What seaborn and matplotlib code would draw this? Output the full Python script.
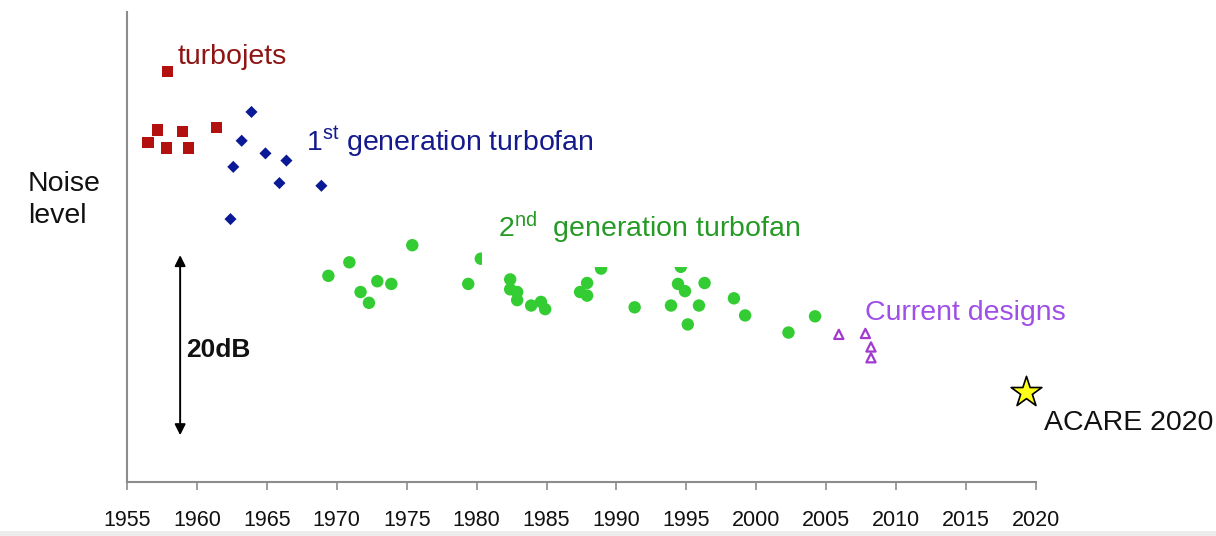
import numpy as np
import pandas as pd
import matplotlib
matplotlib.use("Agg")
import matplotlib.pyplot as plt
from matplotlib.patches import Rectangle
import seaborn as sns

# ---- data (year, relative noise level in dB) ----
turbojet_year = [1957.9, 1957.2, 1956.5, 1957.8, 1959.0, 1959.4, 1961.4]
turbojet_noise = [45.6, 39.1, 37.7, 37.1, 38.9, 37.1, 39.4]

turbofan1_year = [1963.9, 1963.2, 1964.9, 1966.4, 1962.6, 1965.9, 1968.9, 1962.4]
turbofan1_noise = [41.1, 37.9, 36.5, 35.7, 35.0, 33.2, 32.9, 29.2]

turbofan2_year = [1969.4, 1970.9, 1975.4, 1971.7, 1972.3, 1972.9, 1973.9, 1979.4,
                  1980.3, 1982.4, 1982.4, 1982.9, 1982.9, 1983.9, 1984.6, 1984.9,
                  1987.4, 1987.9, 1987.9, 1988.9, 1991.3, 1993.9, 1994.4, 1994.6,
                  1994.9, 1995.1, 1995.9, 1996.3, 1998.4, 1999.2, 2002.3, 2004.2]
turbofan2_noise = [22.9, 24.4, 26.3, 21.1, 19.9, 22.3, 22.0, 22.0,
                   24.8, 22.5, 21.4, 21.1, 20.2, 19.6, 20.0, 19.2,
                   21.1, 22.1, 20.7, 23.7, 19.4, 19.6, 22.0, 23.9,
                   21.2, 17.5, 19.6, 22.1, 20.4, 18.5, 16.6, 18.4]

current_year = [2005.9, 2007.8, 2008.2, 2008.2]
current_noise = [16.4, 16.5, 15.0, 13.8]

acare_year = [2019.3]
acare_noise = [10.0]

x_ticks = list(range(1955, 2021, 5))

# ---- style ----
sns.set_style("white")
plt.rcParams["font.family"] = ["Liberation Sans", "DejaVu Sans"]
plt.rcParams["mathtext.fontset"] = "custom"
plt.rcParams["mathtext.rm"] = "Liberation Sans"
plt.rcParams["mathtext.it"] = "Liberation Sans"

W, H = 1216, 536
fig = plt.figure(figsize=(W / 100, H / 100), dpi=100)
# gray strip at the bottom of the picture
fig.patches.append(Rectangle((0, 0), 1, 5 / H, transform=fig.transFigure,
                             facecolor="#ececec", edgecolor="none", zorder=0))
ax = fig.add_axes([127 / W, (H - 482) / H, (1036 - 127) / W, (482 - 12) / H])
ax.set_facecolor("none")

df_tj = pd.DataFrame({"year": turbojet_year, "noise": turbojet_noise})
df_t1 = pd.DataFrame({"year": turbofan1_year, "noise": turbofan1_noise})
df_t2 = pd.DataFrame({"year": turbofan2_year, "noise": turbofan2_noise})
df_cd = pd.DataFrame({"year": current_year, "noise": current_noise})
df_ac = pd.DataFrame({"year": acare_year, "noise": acare_noise})

sns.scatterplot(data=df_tj, x="year", y="noise", marker="s", s=64,
                color="#b3110f", edgecolor="none", ax=ax, zorder=3)
sns.scatterplot(data=df_t1, x="year", y="noise", marker="D", s=38,
                color="#0a1a96", edgecolor="none", ax=ax, zorder=3)
sns.scatterplot(data=df_t2, x="year", y="noise", marker="o", s=80,
                color="#33cc33", edgecolor="none", ax=ax, zorder=3)
sns.scatterplot(data=df_cd, x="year", y="noise", marker="^", s=44,
                facecolor="none", edgecolor="#a23ad0", linewidth=1.6, ax=ax, zorder=3)
sns.scatterplot(data=df_ac, x="year", y="noise", marker="*", s=540,
                color="#ffff1a", edgecolor="black", linewidth=1.2, ax=ax,
                zorder=4, clip_on=False)

ax.set_xlim(1955, 2020)
ax.set_ylim(0, 52.2)
ax.set_xticks(x_ticks)
ax.set_xticklabels([str(t) for t in x_ticks])
ax.set_yticks([])
ax.set_xlabel("")
ax.set_ylabel("")
for side in ["top", "right"]:
    ax.spines[side].set_visible(False)
for side in ["left", "bottom"]:
    ax.spines[side].set_color("#8c8c8c")
    ax.spines[side].set_linewidth(1.5)
ax.tick_params(axis="x", direction="out", length=6, width=1.2, color="#8c8c8c",
               labelsize=15.5, labelcolor="#111111", pad=14, bottom=True)

# white background behind the 2nd generation label (covers some dots)
ax.add_patch(Rectangle((1980.4, 23.9), 23.4, 7.5, facecolor="white",
                       edgecolor="none", zorder=5))

ax.text(1958.6, 47.2, "turbojets", color="#8f1414", fontsize=20.5,
        ha="left", va="center", zorder=6)
ax.text(1967.8, 37.8, r"1$^{\mathrm{st}}$ generation turbofan", color="#14198c",
        fontsize=20.5, ha="left", va="center", zorder=6)
ax.text(1981.5, 28.2, r"2$^{\mathrm{nd}}$  generation turbofan", color="#259a25",
        fontsize=20.5, ha="left", va="center", zorder=6)
ax.text(2007.8, 18.8, "Current designs", color="#a04ee8", fontsize=20.5,
        ha="left", va="center", zorder=6)
ax.text(2020.6, 6.6, "ACARE 2020", color="#111111", fontsize=20.5,
        ha="left", va="center", zorder=6, clip_on=False)
ax.text(1959.2, 14.7, "20dB", color="#111111", fontsize=19, fontweight="bold",
        ha="left", va="center", zorder=6)
ax.annotate("", xy=(1958.8, 5.2), xytext=(1958.8, 25.2),
            arrowprops=dict(arrowstyle="<|-|>", color="black", lw=1.4,
                            mutation_scale=16, shrinkA=0, shrinkB=0))

fig.text(28 / W, 1 - 200 / H, "Noise\nlevel", fontsize=20.5, color="#111111",
         ha="left", va="center", linespacing=1.3)

fig.savefig("out.png", dpi=100, facecolor="white")
